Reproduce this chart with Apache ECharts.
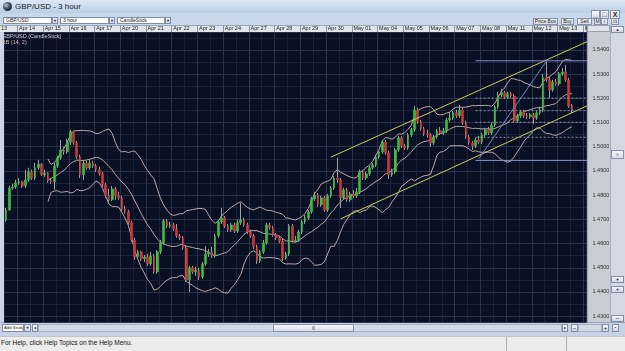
<!DOCTYPE html>
<html><head><meta charset="utf-8"><title>GBP/USD - 3 hour</title>
<script src="https://cdn.jsdelivr.net/npm/echarts@6/dist/echarts.min.js"></script>
<style>
html,body{margin:0;padding:0;}
body{width:625px;height:351px;overflow:hidden;position:relative;background:#c9d7e9;font-family:"Liberation Sans","DejaVu Sans",Arial,sans-serif;color:#111;}
.a{position:absolute;box-sizing:border-box;white-space:nowrap;overflow:hidden;}
.box{background:#fff;border:1px solid #7f8ea6;font-size:5px;line-height:5px;padding-left:2px;color:#222;}
.btn{background:linear-gradient(#f6f8fb,#d6dce7);border:1px solid #8592a8;font-size:5px;line-height:5px;text-align:center;color:#222;}
.arr{background:linear-gradient(#f6f8fb,#d0d7e3);border:1px solid #7f8ea6;font-size:4px;line-height:5px;text-align:center;color:#222;}
#chart{position:absolute;left:0;top:0;width:625px;height:351px;z-index:2;}
.ov{z-index:3;}
</style></head><body>
<!-- window chrome -->
<div class="a" style="left:0;top:0;width:625px;height:13px;background:linear-gradient(#dde8f5,#b9cde6);"></div>
<div class="a" style="left:3px;top:2px;width:9px;height:9px;border-radius:50%;background:radial-gradient(circle at 35% 35%,#b8c4d0 0,#3c4a5c 45%,#0e1218 100%);"></div>
<div class="a" style="left:15px;top:1px;font-size:8px;line-height:11px;color:#1a1a1a;">GBP/USD - 3 hour</div>
<div class="a" style="left:0;top:13px;width:625px;height:12px;background:#c8d7ea;"></div>
<div class="a btn" style="left:591px;top:10px;width:9px;height:9px;font-size:7px;line-height:7px;font-weight:bold;">_</div>
<div class="a btn" style="left:600px;top:10px;width:9px;height:9px;font-size:7px;line-height:7px;">□</div>
<div class="a btn" style="left:610px;top:10px;width:10px;height:9px;font-size:7px;line-height:7px;font-weight:bold;">X</div>
<div class="a box" style="left:3px;top:17px;width:49px;height:7px;">GBP/USD</div>
<div class="a arr" style="left:52px;top:17px;width:6px;height:7px;">▼</div>
<div class="a box" style="left:60px;top:17px;width:49px;height:7px;">3 hour</div>
<div class="a arr" style="left:109px;top:17px;width:6px;height:7px;">▼</div>
<div class="a box" style="left:117px;top:17px;width:48px;height:7px;">CandleStick</div>
<div class="a arr" style="left:165px;top:17px;width:6px;height:7px;">▼</div>
<div class="a btn" style="left:533px;top:18px;width:25px;height:7px;">Price Box</div>
<div class="a btn" style="left:561px;top:18px;width:13px;height:7px;">Buy</div>
<div class="a btn" style="left:577px;top:18px;width:15px;height:7px;">Sell</div>
<div class="a btn" style="left:594px;top:18px;width:7px;height:7px;">M</div>
<div class="a btn" style="left:601px;top:18px;width:7px;height:7px;">/</div>
<div class="a btn" style="left:611px;top:18px;width:8px;height:7px;">⊡</div>
<!-- date header -->
<div class="a" style="left:0;top:25px;width:587px;height:7px;background:#e2e6ec;border-top:1px solid #9ea8b8;"></div>
<div class="a" style="left:1px;top:25px;font-size:5.5px;line-height:7px;color:#222;">13</div>
<!-- plot background -->
<div class="a" style="left:0;top:32px;width:4px;height:290px;background:#c9d5e4;"></div>
<div class="a" style="left:4px;top:32px;width:583px;height:290px;background:#0a1023;"></div>
<!-- price panel -->
<div class="a" style="left:587px;top:25px;width:23px;height:297px;background:#c8ccd4;border-left:1px solid #9aa3b3;"></div>
<div class="a ov" style="left:587px;top:25px;width:23px;height:7px;background:#dfe3ea;border:1px solid #9aa3b3;"></div>
<!-- right scrollbar -->
<div class="a" style="left:610px;top:25px;width:15px;height:297px;background:#d3d9e3;border-left:1px solid #a8b2c2;"></div>
<div class="a arr" style="left:611px;top:26px;width:13px;height:7px;">▲</div>
<div class="a btn" style="left:611px;top:150px;width:13px;height:9px;font-size:4px;line-height:7px;">≡</div>
<div class="a arr" style="left:611px;top:276px;width:13px;height:7px;">▼</div>
<div class="a arr" style="left:611px;top:286px;width:13px;height:7px;font-size:6px;">+</div>
<div class="a arr" style="left:611px;top:315px;width:13px;height:7px;font-size:6px;">−</div>
<!-- bottom row -->
<div class="a" style="left:0;top:322px;width:625px;height:14px;background:#c6d3e4;border-top:1px solid #9aa6b8;"></div>
<div class="a box" style="left:2px;top:324px;width:22px;height:8px;line-height:6px;font-size:4.3px;padding-left:1px;">Add Study</div>
<div class="a arr" style="left:24px;top:324px;width:7px;height:8px;line-height:6px;">▼</div>
<div class="a arr" style="left:32px;top:324px;width:6px;height:8px;line-height:6px;">◂</div>
<div class="a" style="left:38px;top:324px;width:524px;height:8px;background:#d2dae6;border:1px solid #a3afc2;"></div>
<div class="a btn" style="left:273px;top:324px;width:81px;height:8px;line-height:6px;font-size:4px;">|||</div>
<div class="a arr" style="left:562px;top:324px;width:6px;height:8px;line-height:6px;">▸</div>
<div class="a arr" style="left:571px;top:324px;width:7px;height:8px;line-height:6px;font-size:6px;">−</div>
<div class="a" style="left:578px;top:324px;width:24px;height:8px;background:#d2dae6;border:1px solid #a3afc2;"></div>
<div class="a arr" style="left:602px;top:324px;width:7px;height:8px;line-height:6px;font-size:6px;">+</div>
<div class="a arr" style="left:612px;top:324px;width:7px;height:8px;line-height:6px;">▪</div>
<!-- status bar -->
<div class="a" style="left:0;top:336px;width:625px;height:15px;background:#ececec;border-top:1px solid #c4c4c4;"></div>
<div class="a" style="left:1px;top:338px;font-size:6.5px;line-height:10px;color:#111;">For Help, click Help Topics on the Help Menu.</div>
<div class="a" style="left:506px;top:337px;width:1px;height:14px;background:#b0b0b0;"></div>
<div class="a" style="left:566px;top:337px;width:1px;height:14px;background:#b0b0b0;"></div>
<!-- chart -->
<div id="chart"></div>
<div class="a ov" style="left:2px;top:33px;font-size:5.5px;line-height:6px;color:#d4d4d4;">GBP/USD (CandleStick)</div>
<div class="a ov" style="left:2px;top:39px;font-size:5.5px;line-height:6px;color:#e2b2b2;">BB (14, 2)</div>
<script>
// ---- time axis labels ----
const days = ['Apr 13','Apr 14','Apr 15','Apr 16','Apr 17','Apr 20','Apr 21','Apr 22','Apr 23','Apr 24',
  'Apr 27','Apr 28','Apr 29','Apr 30','May 01','May 04','May 05','May 06','May 07','May 08',
  'May 11','May 12','May 13','May 14'];
const hours = ['00:00','03:00','06:00','09:00','12:00','15:00','18:00','21:00'];
const slotCount = 181;           // visible 3-hour slots (177 candles + empty space on the right)
const firstHourIndex = 4;        // first visible candle: Apr 13 12:00

// ---- price axis tick labels ----
const priceTicks = [1.43,1.44,1.45,1.46,1.47,1.48,1.49,1.50,1.51,1.52,1.53,1.54];

// ---- GBP/USD 3-hour candles ----
const open = [1.4698,1.4739,1.4830,1.4834,1.4851,1.4855,1.4838,1.4863,1.4896,1.4871,
1.4913,1.4929,1.4884,1.4892,1.4859,1.4855,1.4921,1.4954,1.4987,1.4979,
1.5020,1.5062,1.5016,1.4958,1.4884,1.4933,1.4913,1.4933,1.4921,1.4905,
1.4888,1.4843,1.4797,1.4781,1.4826,1.4797,1.4789,1.4743,1.4731,1.4686,
1.4615,1.4545,1.4566,1.4537,1.4545,1.4516,1.4549,1.4483,1.4566,1.4603,
1.4694,1.4673,1.4677,1.4661,1.4632,1.4624,1.4582,1.4450,1.4500,1.4483,
1.4491,1.4462,1.4516,1.4557,1.4566,1.4549,1.4632,1.4690,1.4706,1.4673,
1.4657,1.4677,1.4652,1.4686,1.4698,1.4677,1.4648,1.4632,1.4586,1.4528,
1.4566,1.4603,1.4677,1.4665,1.4636,1.4624,1.4611,1.4541,1.4557,1.4673,
1.4611,1.4615,1.4648,1.4690,1.4706,1.4731,1.4785,1.4801,1.4760,1.4789,
1.4739,1.4797,1.4830,1.4871,1.4863,1.4789,1.4822,1.4781,1.4805,1.4797,
1.4814,1.4896,1.4871,1.4888,1.4913,1.4925,1.4958,1.4979,1.5020,1.4975,
1.4884,1.4896,1.4987,1.5037,1.5004,1.4995,1.5049,1.5070,1.5152,1.5103,
1.5074,1.5053,1.5049,1.5016,1.5041,1.5066,1.5057,1.5066,1.5111,1.5119,
1.5140,1.5128,1.5152,1.5099,1.5041,1.5016,1.5004,1.5028,1.5020,1.5049,
1.5070,1.5057,1.5090,1.5165,1.5214,1.5223,1.5206,1.5219,1.5210,1.5107,
1.5128,1.5144,1.5128,1.5124,1.5132,1.5119,1.5140,1.5152,1.5285,1.5276,
1.5235,1.5268,1.5260,1.5301,1.5309,1.5276,1.5169];
const close = [1.4739,1.4830,1.4834,1.4851,1.4855,1.4838,1.4863,1.4896,1.4871,1.4913,
1.4929,1.4884,1.4892,1.4859,1.4855,1.4921,1.4954,1.4987,1.4979,1.5020,
1.5062,1.5016,1.4958,1.4884,1.4933,1.4913,1.4933,1.4921,1.4905,1.4888,
1.4843,1.4797,1.4781,1.4826,1.4797,1.4789,1.4743,1.4731,1.4686,1.4615,
1.4545,1.4566,1.4537,1.4545,1.4516,1.4549,1.4483,1.4566,1.4603,1.4694,
1.4673,1.4677,1.4661,1.4632,1.4624,1.4582,1.4450,1.4500,1.4483,1.4491,
1.4462,1.4516,1.4557,1.4566,1.4549,1.4632,1.4690,1.4706,1.4673,1.4657,
1.4677,1.4652,1.4686,1.4698,1.4677,1.4648,1.4632,1.4586,1.4528,1.4566,
1.4603,1.4677,1.4665,1.4636,1.4624,1.4611,1.4541,1.4557,1.4673,1.4611,
1.4615,1.4648,1.4690,1.4706,1.4731,1.4785,1.4801,1.4760,1.4789,1.4739,
1.4797,1.4830,1.4871,1.4863,1.4789,1.4822,1.4781,1.4805,1.4797,1.4814,
1.4896,1.4871,1.4888,1.4913,1.4925,1.4958,1.4979,1.5020,1.4975,1.4884,
1.4896,1.4987,1.5037,1.5004,1.4995,1.5049,1.5070,1.5152,1.5103,1.5074,
1.5053,1.5049,1.5016,1.5041,1.5066,1.5057,1.5066,1.5111,1.5119,1.5140,
1.5128,1.5152,1.5099,1.5041,1.5016,1.5004,1.5028,1.5020,1.5049,1.5070,
1.5057,1.5090,1.5165,1.5214,1.5223,1.5206,1.5219,1.5210,1.5107,1.5128,
1.5144,1.5128,1.5124,1.5132,1.5119,1.5140,1.5152,1.5285,1.5276,1.5235,
1.5268,1.5260,1.5301,1.5309,1.5276,1.5169,1.5152];
const low = [1.4690,1.4735,1.4822,1.4826,1.4843,1.4830,1.4830,1.4855,1.4863,1.4863,
1.4905,1.4880,1.4876,1.4851,1.4847,1.4822,1.4913,1.4946,1.4967,1.4971,
1.5008,1.5008,1.4950,1.4871,1.4863,1.4905,1.4905,1.4913,1.4896,1.4880,
1.4834,1.4789,1.4772,1.4776,1.4781,1.4781,1.4735,1.4723,1.4677,1.4607,
1.4533,1.4537,1.4528,1.4524,1.4508,1.4508,1.4475,1.4475,1.4557,1.4595,
1.4665,1.4665,1.4652,1.4624,1.4615,1.4574,1.4442,1.4400,1.4475,1.4467,
1.4450,1.4454,1.4508,1.4545,1.4541,1.4541,1.4624,1.4681,1.4665,1.4648,
1.4648,1.4644,1.4644,1.4677,1.4669,1.4640,1.4624,1.4578,1.4516,1.4520,
1.4557,1.4595,1.4657,1.4628,1.4615,1.4603,1.4528,1.4533,1.4549,1.4603,
1.4603,1.4607,1.4640,1.4681,1.4698,1.4723,1.4776,1.4752,1.4752,1.4731,
1.4731,1.4789,1.4822,1.4851,1.4747,1.4781,1.4772,1.4772,1.4789,1.4789,
1.4805,1.4863,1.4863,1.4880,1.4905,1.4917,1.4950,1.4971,1.4967,1.4867,
1.4876,1.4888,1.4979,1.4995,1.4987,1.4987,1.5041,1.5062,1.5095,1.5066,
1.5045,1.5037,1.5000,1.5008,1.5033,1.5049,1.5049,1.5057,1.5103,1.5111,
1.5119,1.5119,1.5090,1.5033,1.5008,1.4987,1.4995,1.5012,1.5012,1.5041,
1.5049,1.5049,1.5082,1.5157,1.5206,1.5198,1.5198,1.5202,1.5099,1.5099,
1.5119,1.5119,1.5115,1.5115,1.5095,1.5111,1.5132,1.5144,1.5268,1.5202,
1.5227,1.5252,1.5252,1.5293,1.5268,1.5161,1.5140];
const high = [1.4747,1.4838,1.4847,1.4863,1.4871,1.4859,1.4905,1.4913,1.4905,1.4933,
1.4946,1.4933,1.4905,1.4896,1.4871,1.4933,1.4962,1.5028,1.5000,1.5033,
1.5070,1.5066,1.5024,1.4967,1.4942,1.4942,1.4946,1.4942,1.4929,1.4917,
1.4896,1.4851,1.4826,1.4838,1.4834,1.4814,1.4797,1.4756,1.4739,1.4694,
1.4624,1.4574,1.4570,1.4553,1.4557,1.4566,1.4557,1.4574,1.4615,1.4702,
1.4702,1.4690,1.4686,1.4681,1.4640,1.4632,1.4590,1.4508,1.4508,1.4504,
1.4500,1.4524,1.4590,1.4578,1.4586,1.4640,1.4698,1.4747,1.4714,1.4681,
1.4686,1.4686,1.4698,1.4768,1.4706,1.4686,1.4657,1.4640,1.4595,1.4574,
1.4615,1.4686,1.4686,1.4673,1.4644,1.4632,1.4619,1.4566,1.4681,1.4681,
1.4632,1.4657,1.4698,1.4719,1.4739,1.4793,1.4814,1.4809,1.4797,1.4797,
1.4805,1.4838,1.4880,1.4954,1.4871,1.4830,1.4830,1.4814,1.4822,1.4830,
1.4905,1.4905,1.4896,1.4921,1.4933,1.4967,1.4987,1.5028,1.5028,1.4983,
1.4909,1.4995,1.5045,1.5045,1.5012,1.5057,1.5078,1.5169,1.5161,1.5111,
1.5082,1.5070,1.5057,1.5049,1.5074,1.5082,1.5078,1.5119,1.5144,1.5148,
1.5152,1.5173,1.5161,1.5107,1.5049,1.5024,1.5037,1.5045,1.5057,1.5078,
1.5082,1.5099,1.5173,1.5227,1.5239,1.5231,1.5227,1.5227,1.5219,1.5136,
1.5152,1.5152,1.5140,1.5140,1.5140,1.5148,1.5165,1.5301,1.5351,1.5289,
1.5276,1.5281,1.5309,1.5326,1.5338,1.5285,1.5177];

// ---- drawing objects (anchored in [slot index, price]) ----
const channelUpper = [[101, 1.4957], [180.5, 1.5436]];
const channelLower = [[104, 1.4702], [180.5, 1.5171]];
const fibStart = 146, fibEnd = 180.5;
const fibSolid = [1.5355, 1.4943];
const fibDashed = [1.5201, 1.5149, 1.5101, 1.5039];
const fibDiagonal = [[146.5, 1.4950], [167.6, 1.5353]];
const bbPeriod = 14, bbK = 2;

// ---- build ----
const categories = [];
days.forEach((d, di) => hours.forEach((h, hi) => {
  if (di === 0 && hi < firstHourIndex) return;
  categories.push(d + ' ' + h);
}));
categories.length = slotCount;

const wickData = open.map((o, i) => [o, close[i], low[i], high[i]]);
const bodyData = open.map((o, i) => [o, close[i], Math.min(o, close[i]), Math.max(o, close[i])]);

const bbUp = [], bbMid = [], bbLo = [];
for (let i = 0; i < close.length; i++) {
  if (i < bbPeriod - 1) { bbUp.push('-'); bbMid.push('-'); bbLo.push('-'); continue; }
  let s = 0; for (let j = i - bbPeriod + 1; j <= i; j++) s += close[j];
  const m = s / bbPeriod;
  let v = 0; for (let j = i - bbPeriod + 1; j <= i; j++) v += (close[j] - m) * (close[j] - m);
  const sd = Math.sqrt(v / bbPeriod);
  bbMid.push(m); bbUp.push(m + bbK * sd); bbLo.push(m - bbK * sd);
}

const isDay = i => categories[i] && categories[i].endsWith('00:00');
const isHalf = i => categories[i] && categories[i].endsWith('12:00');

const GRID_MAJOR = '#2a334d', GRID_MINOR = '#1a2139';
const bbStyle = {type:'line', xAxisIndex:0, yAxisIndex:0, showSymbol:false, symbol:'none',
  lineStyle:{color:'#bda8a8', width:1}, z:3, silent:true};
const lineObj = (name, data, color, type) => ({type:'line', name, data, xAxisIndex:0, yAxisIndex:0,
  showSymbol:false, symbol:'none', lineStyle:{color, width:1, type: type || 'solid'}, z:6, silent:true, clip:true});

const series = [
  Object.assign({name:'BB upper', data:bbUp}, bbStyle),
  Object.assign({name:'BB middle', data:bbMid}, bbStyle),
  Object.assign({name:'BB lower', data:bbLo}, bbStyle),
  {type:'candlestick', name:'wick', data:wickData, barWidth:1, z:4, silent:true,
   itemStyle:{color:'#a0a0a0', color0:'#a0a0a0', borderColor:'#a0a0a0', borderColor0:'#a0a0a0', borderColorDoji:'#a0a0a0', borderWidth:1}},
  {type:'candlestick', name:'GBP/USD', data:bodyData, barWidth:2.2, z:5, silent:true,
   itemStyle:{color:'#43b843', color0:'#c93a3a', borderColor:'#43b843', borderColor0:'#c93a3a', borderColorDoji:'#a0a0a0', borderWidth:0.6}},
  lineObj('channel upper', channelUpper, '#c9cc63'),
  lineObj('channel lower', channelLower, '#c9cc63'),
  lineObj('fib diagonal', fibDiagonal, '#6e86c8'),
];
fibSolid.forEach((p, k) => series.push(lineObj('fib ' + k, [[fibStart, p], [fibEnd, p]], '#7c8ec6')));
fibDashed.forEach((p, k) => series.push(lineObj('fib dashed ' + k, [[fibStart, p], [fibEnd, p]], '#8a93ab', [2, 2])));

const chart = echarts.init(document.getElementById('chart'), null, {renderer:'canvas'});
chart.setOption({
  animation:false,
  backgroundColor:'transparent',
  textStyle:{fontFamily:'Liberation Sans'},
  grid:{left:4.5, right:38.5, top:32, bottom:29, containLabel:false},
  xAxis:[
    {type:'category', data:categories, position:'top', boundaryGap:true, z:1,
     axisLine:{show:false},
     axisTick:{show:true, interval:(i) => isDay(i), length:7, lineStyle:{color:'#8e97a8', width:1}},
     axisLabel:{show:true, interval:(i) => isDay(i), formatter:(v) => v.slice(0, 6), align:'left', margin:1,
       fontSize:5.5, color:'#222', fontFamily:'Liberation Sans'},
     splitLine:{show:true, interval:(i) => isDay(i), lineStyle:{color:GRID_MAJOR, width:1}}},
    {type:'category', data:categories, position:'bottom', boundaryGap:true, z:0,
     axisLine:{show:false}, axisTick:{show:false}, axisLabel:{show:false},
     splitLine:{show:true, interval:(i) => isHalf(i), lineStyle:{color:GRID_MINOR, width:1}}}
  ],
  yAxis:[
    {type:'value', position:'right', min:1.4276, max:1.5474, minInterval:0.01, maxInterval:0.01, z:1,
     axisLine:{show:false}, axisTick:{show:false},
     axisLabel:{show:true, customValues:priceTicks, formatter:(v) => v.toFixed(4), margin:6,
       fontSize:5.5, color:'#2a2a2a', fontFamily:'Liberation Sans'},
     splitLine:{show:true, lineStyle:{color:GRID_MAJOR, width:1}}},
    {type:'value', position:'right', min:1.4276, max:1.5474, minInterval:0.005, maxInterval:0.005, z:0,
     axisLine:{show:false}, axisTick:{show:false}, axisLabel:{show:false},
     splitLine:{show:true, lineStyle:{color:GRID_MINOR, width:1}}}
  ],
  series
});
</script>
</body></html>
